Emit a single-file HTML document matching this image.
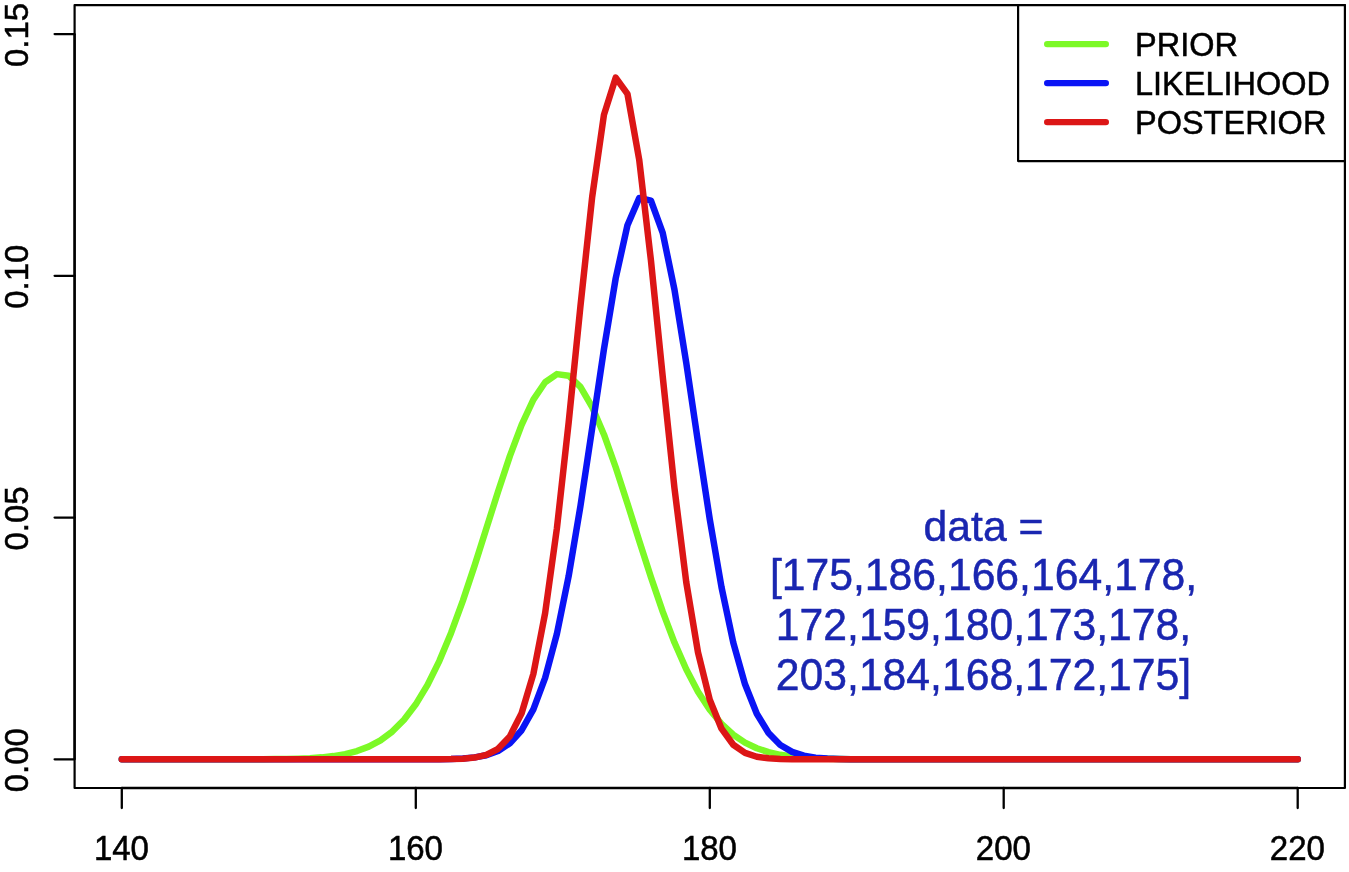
<!DOCTYPE html><html><head><meta charset="utf-8"><title>plot</title><style>html,body{margin:0;padding:0;background:#fff}svg{display:block}text{font-family:"Liberation Sans",sans-serif;stroke:#000;stroke-width:0.5px}</style></head><body>
<svg width="1349" height="872" viewBox="0 0 1349 872">
<rect width="1349" height="872" fill="#fff"/>
<polyline points="121.80,759.30 133.56,759.30 145.32,759.30 157.08,759.30 168.84,759.30 180.60,759.30 192.36,759.30 204.11,759.30 215.87,759.29 227.63,759.29 239.39,759.27 251.15,759.25 262.91,759.20 274.67,759.10 286.43,758.94 298.19,758.65 309.95,758.16 321.71,757.36 333.47,756.08 345.22,754.09 356.98,751.07 368.74,746.64 380.50,740.31 392.26,731.53 404.02,719.72 415.78,704.33 427.54,684.87 439.30,661.07 451.06,632.93 462.82,600.85 474.58,565.65 486.34,528.60 498.09,491.42 509.85,456.10 521.61,424.81 533.37,399.60 545.13,382.28 556.89,374.11 568.65,375.71 580.41,386.96 592.17,407.01 603.93,434.41 615.69,467.25 627.45,503.40 639.20,540.75 650.96,577.36 662.72,611.67 674.48,642.54 686.24,669.28 698.00,691.66 709.76,709.76 721.52,723.93 733.28,734.69 745.04,742.60 756.80,748.26 768.56,752.19 780.32,754.83 792.07,756.56 803.83,757.67 815.59,758.35 827.35,758.76 839.11,759.00 850.87,759.14 862.63,759.22 874.39,759.26 886.15,759.28 897.91,759.29 909.67,759.30 921.43,759.30 933.18,759.30 944.94,759.30 956.70,759.30 968.46,759.30 980.22,759.30 991.98,759.30 1003.74,759.30 1015.50,759.30 1027.26,759.30 1039.02,759.30 1050.78,759.30 1062.54,759.30 1074.30,759.30 1086.05,759.30 1097.81,759.30 1109.57,759.30 1121.33,759.30 1133.09,759.30 1144.85,759.30 1156.61,759.30 1168.37,759.30 1180.13,759.30 1191.89,759.30 1203.65,759.30 1215.41,759.30 1227.16,759.30 1238.92,759.30 1250.68,759.30 1262.44,759.30 1274.20,759.30 1285.96,759.30 1297.72,759.30" fill="none" stroke="#7cf926" stroke-width="6.5" stroke-linecap="round" stroke-linejoin="round"/>
<polyline points="121.80,759.30 133.56,759.30 145.32,759.30 157.08,759.30 168.84,759.30 180.60,759.30 192.36,759.30 204.11,759.30 215.87,759.30 227.63,759.30 239.39,759.30 251.15,759.30 262.91,759.30 274.67,759.30 286.43,759.30 298.19,759.30 309.95,759.30 321.71,759.30 333.47,759.30 345.22,759.30 356.98,759.30 368.74,759.30 380.50,759.30 392.26,759.30 404.02,759.29 415.78,759.28 427.54,759.25 439.30,759.16 451.06,758.94 462.82,758.45 474.58,757.38 486.34,755.19 498.09,750.97 509.85,743.32 521.61,730.26 533.37,709.34 545.13,677.95 556.89,633.87 568.65,576.21 580.41,506.27 592.17,428.24 603.93,349.20 615.69,278.35 627.45,225.29 639.20,197.95 650.96,200.63 662.72,232.91 674.48,289.73 686.24,362.72 698.00,442.20 709.76,519.25 721.52,587.26 733.28,642.56 745.04,684.31 756.80,713.69 768.56,733.04 780.32,744.98 792.07,751.91 803.83,755.69 815.59,757.63 827.35,758.57 839.11,759.00 850.87,759.18 862.63,759.26 874.39,759.28 886.15,759.29 897.91,759.30 909.67,759.30 921.43,759.30 933.18,759.30 944.94,759.30 956.70,759.30 968.46,759.30 980.22,759.30 991.98,759.30 1003.74,759.30 1015.50,759.30 1027.26,759.30 1039.02,759.30 1050.78,759.30 1062.54,759.30 1074.30,759.30 1086.05,759.30 1097.81,759.30 1109.57,759.30 1121.33,759.30 1133.09,759.30 1144.85,759.30 1156.61,759.30 1168.37,759.30 1180.13,759.30 1191.89,759.30 1203.65,759.30 1215.41,759.30 1227.16,759.30 1238.92,759.30 1250.68,759.30 1262.44,759.30 1274.20,759.30 1285.96,759.30 1297.72,759.30" fill="none" stroke="#0a14f5" stroke-width="6.5" stroke-linecap="round" stroke-linejoin="round"/>
<polyline points="121.80,759.30 133.56,759.30 145.32,759.30 157.08,759.30 168.84,759.30 180.60,759.30 192.36,759.30 204.11,759.30 215.87,759.30 227.63,759.30 239.39,759.30 251.15,759.30 262.91,759.30 274.67,759.30 286.43,759.30 298.19,759.30 309.95,759.30 321.71,759.30 333.47,759.30 345.22,759.30 356.98,759.30 368.74,759.30 380.50,759.30 392.26,759.30 404.02,759.30 415.78,759.30 427.54,759.28 439.30,759.24 451.06,759.09 462.82,758.67 474.58,757.55 486.34,754.83 498.09,748.77 509.85,736.37 521.61,713.24 533.37,673.89 545.13,613.13 556.89,528.42 568.65,422.73 580.41,306.46 592.17,196.99 603.93,114.86 615.69,77.65 627.45,93.85 639.20,159.73 650.96,260.72 662.72,376.65 674.48,488.25 686.24,582.10 698.00,652.38 709.76,699.76 721.52,728.70 733.28,744.78 745.04,752.95 756.80,756.73 768.56,758.34 780.32,758.97 792.07,759.20 803.83,759.27 815.59,759.29 827.35,759.30 839.11,759.30 850.87,759.30 862.63,759.30 874.39,759.30 886.15,759.30 897.91,759.30 909.67,759.30 921.43,759.30 933.18,759.30 944.94,759.30 956.70,759.30 968.46,759.30 980.22,759.30 991.98,759.30 1003.74,759.30 1015.50,759.30 1027.26,759.30 1039.02,759.30 1050.78,759.30 1062.54,759.30 1074.30,759.30 1086.05,759.30 1097.81,759.30 1109.57,759.30 1121.33,759.30 1133.09,759.30 1144.85,759.30 1156.61,759.30 1168.37,759.30 1180.13,759.30 1191.89,759.30 1203.65,759.30 1215.41,759.30 1227.16,759.30 1238.92,759.30 1250.68,759.30 1262.44,759.30 1274.20,759.30 1285.96,759.30 1297.72,759.30" fill="none" stroke="#dc1616" stroke-width="6.5" stroke-linecap="round" stroke-linejoin="round"/>
<rect x="74.6" y="5.05" width="1270.3" height="782.95" fill="none" stroke="#000" stroke-width="2.2" stroke-linejoin="round"/>
<line x1="74.6" y1="759.3" x2="74.6" y2="34.1" stroke="#000" stroke-width="2.3"/>
<line x1="121.8" y1="788" x2="1297.7" y2="788" stroke="#000" stroke-width="2.3"/>
<line x1="121.8" y1="788" x2="121.8" y2="808" stroke="#000" stroke-width="2.3" stroke-linecap="round"/>
<text transform="translate(121.4,859.5) scale(1,1.04)" font-size="33" text-anchor="middle">140</text>
<line x1="415.8" y1="788" x2="415.8" y2="808" stroke="#000" stroke-width="2.3" stroke-linecap="round"/>
<text transform="translate(415.4,859.5) scale(1,1.04)" font-size="33" text-anchor="middle">160</text>
<line x1="709.8" y1="788" x2="709.8" y2="808" stroke="#000" stroke-width="2.3" stroke-linecap="round"/>
<text transform="translate(709.4,859.5) scale(1,1.04)" font-size="33" text-anchor="middle">180</text>
<line x1="1003.7" y1="788" x2="1003.7" y2="808" stroke="#000" stroke-width="2.3" stroke-linecap="round"/>
<text transform="translate(1003.3,859.5) scale(1,1.04)" font-size="33" text-anchor="middle">200</text>
<line x1="1297.7" y1="788" x2="1297.7" y2="808" stroke="#000" stroke-width="2.3" stroke-linecap="round"/>
<text transform="translate(1297.3,859.5) scale(1,1.04)" font-size="33" text-anchor="middle">220</text>
<line x1="54.6" y1="759.3" x2="74.6" y2="759.3" stroke="#000" stroke-width="2.3" stroke-linecap="round"/>
<text transform="translate(28.3,760.2) rotate(-90) scale(1,1.03)" font-size="33" text-anchor="middle">0.00</text>
<line x1="54.6" y1="517.6" x2="74.6" y2="517.6" stroke="#000" stroke-width="2.3" stroke-linecap="round"/>
<text transform="translate(28.3,518.5) rotate(-90) scale(1,1.03)" font-size="33" text-anchor="middle">0.05</text>
<line x1="54.6" y1="275.8" x2="74.6" y2="275.8" stroke="#000" stroke-width="2.3" stroke-linecap="round"/>
<text transform="translate(28.3,276.7) rotate(-90) scale(1,1.03)" font-size="33" text-anchor="middle">0.10</text>
<line x1="54.6" y1="34.1" x2="74.6" y2="34.1" stroke="#000" stroke-width="2.3" stroke-linecap="round"/>
<text transform="translate(28.3,35.0) rotate(-90) scale(1,1.03)" font-size="33" text-anchor="middle">0.15</text>
<rect x="1018.1" y="5.05" width="326.8" height="156" fill="#fff" stroke="#000" stroke-width="2.2" stroke-linejoin="round"/>
<line x1="1047.2" y1="44.1" x2="1105.8" y2="44.1" stroke="#7cf926" stroke-width="6.4" stroke-linecap="round"/>
<text transform="translate(1135,56) scale(1,1.035)" font-size="32.5">PRIOR</text>
<line x1="1047.2" y1="83.1" x2="1105.8" y2="83.1" stroke="#0a14f5" stroke-width="6.4" stroke-linecap="round"/>
<text transform="translate(1135,95) scale(1,1.035)" font-size="32.5">LIKELIHOOD</text>
<line x1="1047.2" y1="122.1" x2="1105.8" y2="122.1" stroke="#dc1616" stroke-width="6.4" stroke-linecap="round"/>
<text transform="translate(1135,134) scale(1,1.035)" font-size="32.5">POSTERIOR</text>
<text transform="translate(983.5,540.9) scale(1,1)" font-size="42.7" text-anchor="middle" style="fill:#1a26b0;stroke:#1a26b0">data =</text>
<text transform="translate(983.5,590.0) scale(1,1.055)" font-size="42.7" text-anchor="middle" style="fill:#1a26b0;stroke:#1a26b0">[175,186,166,164,178,</text>
<text transform="translate(983.5,640.0) scale(1,1.055)" font-size="42.7" text-anchor="middle" style="fill:#1a26b0;stroke:#1a26b0">172,159,180,173,178,</text>
<text transform="translate(983.5,690.1) scale(1,1.055)" font-size="42.7" text-anchor="middle" style="fill:#1a26b0;stroke:#1a26b0">203,184,168,172,175]</text>
</svg></body></html>
